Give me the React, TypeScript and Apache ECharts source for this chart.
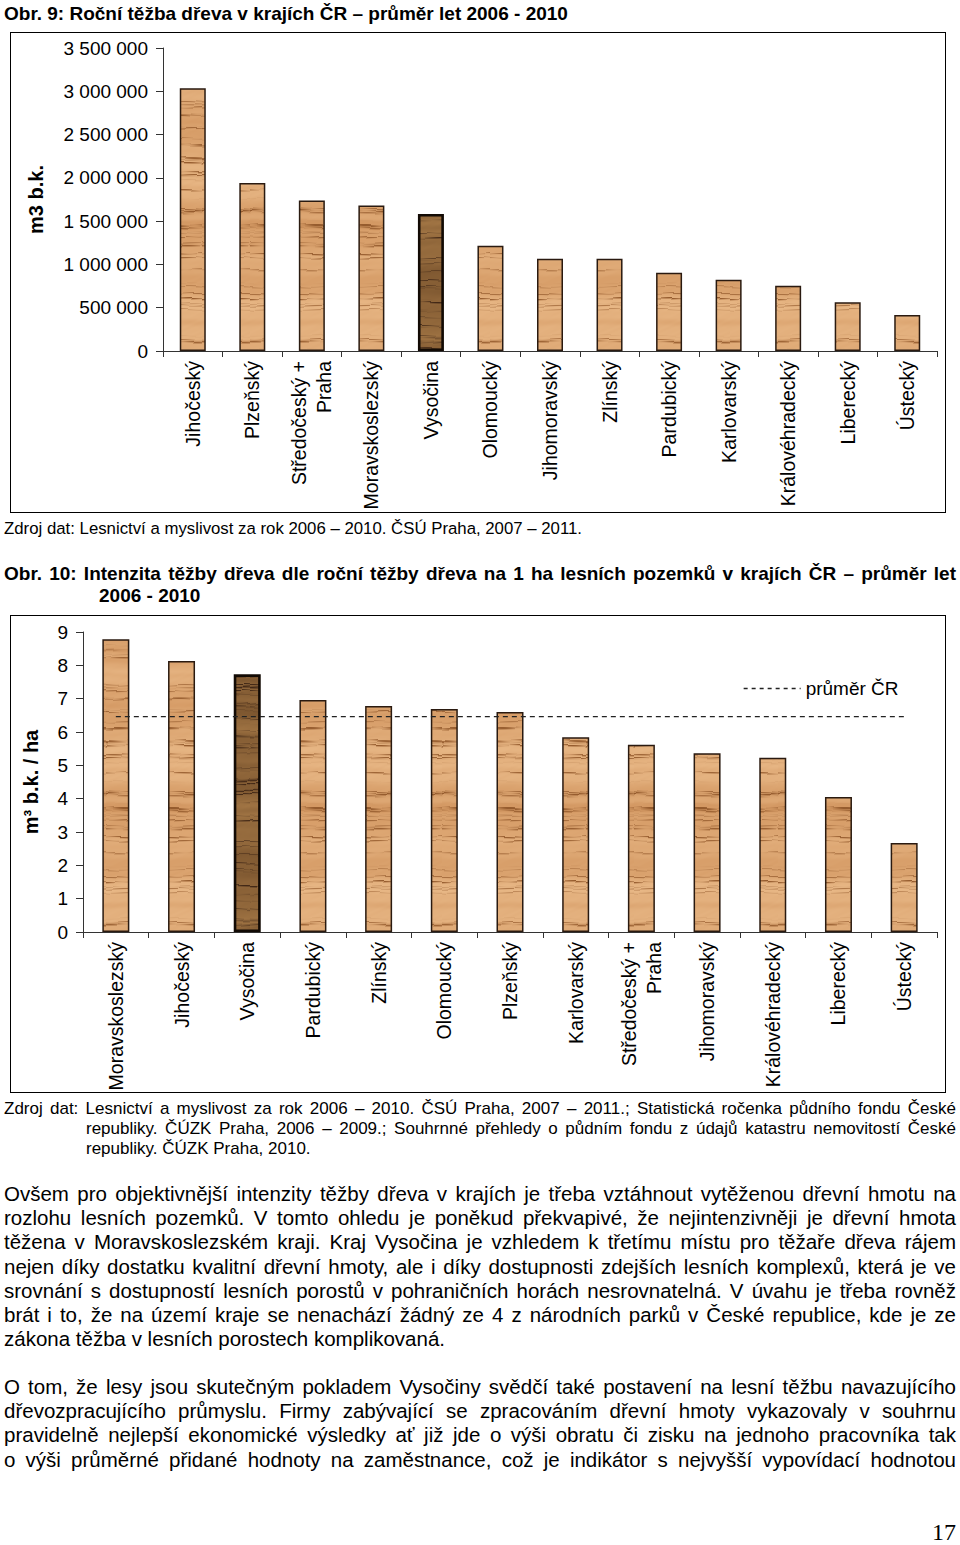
import React, { useEffect, useRef } from "react";
import * as echarts from "echarts";

// ---------- DATA ----------
const regions1 = [
  "Jihočeský",
  "Plzeňský",
  "Středočeský +\nPraha",
  "Moravskoslezský",
  "Vysočina",
  "Olomoucký",
  "Jihomoravský",
  "Zlínský",
  "Pardubický",
  "Karlovarský",
  "Královéhradecký",
  "Liberecký",
  "Ústecký",
];
const harvest1 = [3036000, 1942000, 1738000, 1682000, 1583000, 1217000, 1065000, 1065000, 904000, 823000, 753000, 562000, 417000];

const regions2 = [
  "Moravskoslezský",
  "Jihočeský",
  "Vysočina",
  "Pardubický",
  "Zlínský",
  "Olomoucký",
  "Plzeňský",
  "Karlovarský",
  "Středočeský +\nPraha",
  "Jihomoravský",
  "Královéhradecký",
  "Liberecký",
  "Ústecký",
];
const intensity2 = [8.78, 8.13, 7.73, 6.96, 6.78, 6.69, 6.6, 5.84, 5.62, 5.36, 5.23, 4.05, 2.67];
const averageCR = [6.46, 6.46, 6.46, 6.46, 6.46, 6.46, 6.46, 6.46, 6.46, 6.46, 6.46, 6.46, 6.46];
const averageName = "průměr ČR";
const highlighted = "Vysočina";

const title1 = "Obr. 9: Roční těžba dřeva v krajích ČR – průměr let 2006 - 2010";
const source1 = "Zdroj dat: Lesnictví a myslivost za rok 2006 – 2010. ČSÚ Praha, 2007 – 2011.";
const title2Line1 = "Obr. 10: Intenzita těžby dřeva dle roční těžby dřeva na 1 ha lesních pozemků v krajích ČR – průměr let";
const title2Line2 = "2006 - 2010";
const source2Lines = [
  "Zdroj dat: Lesnictví a myslivost za rok 2006 – 2010. ČSÚ Praha, 2007 – 2011.; Statistická ročenka půdního fondu České",
  "republiky. ČÚZK Praha, 2006 – 2009.; Souhrnné přehledy o půdním fondu z údajů katastru nemovitostí České",
  "republiky. ČÚZK Praha, 2010.",
];
const paragraph1 = [
  "Ovšem pro objektivnější intenzity těžby dřeva v krajích je třeba vztáhnout vytěženou dřevní hmotu na",
  "rozlohu lesních pozemků. V tomto ohledu je poněkud překvapivé, že nejintenzivněji je dřevní hmota",
  "těžena v Moravskoslezském kraji. Kraj Vysočina je vzhledem k třetímu místu pro těžaře dřeva rájem",
  "nejen díky dostatku kvalitní dřevní hmoty, ale i díky dostupnosti zdejších lesních komplexů, která je ve",
  "srovnání s dostupností lesních porostů v pohraničních horách nesrovnatelná. V úvahu je třeba rovněž",
  "brát i to, že na území kraje se nenachází žádný ze 4 z národních parků v České republice, kde je ze",
  "zákona těžba v lesních porostech komplikovaná.",
];
const paragraph2 = [
  "O tom, že lesy jsou skutečným pokladem Vysočiny svědčí také postavení na lesní těžbu navazujícího",
  "dřevozpracujícího průmyslu. Firmy zabývající se zpracováním dřevní hmoty vykazovaly v souhrnu",
  "pravidelně nejlepší ekonomické výsledky ať již jde o výši obratu či zisku na jednoho pracovníka tak",
  "o výši průměrné přidané hodnoty na zaměstnance, což je indikátor s nejvyšší vypovídací hodnotou",
];
const pageNumber = "17";

// ---------- STYLE ----------
const FONT = "'Liberation Sans', Arial, Helvetica, sans-serif";
const NARROW = "'Liberation Sans Narrow', 'Arial Narrow', 'Liberation Sans', Arial, sans-serif";

function mix(a: number[], b: number[], t: number) {
  return [a[0] + (b[0] - a[0]) * t, a[1] + (b[1] - a[1]) * t, a[2] + (b[2] - a[2]) * t];
}

// deterministic hash used only for the wood-grain texture (not data)
function hash(n: number) {
  const s = Math.sin(n * 12.9898 + 78.233) * 43758.5453;
  return s - Math.floor(s);
}
function smoothNoise(v: number, seed: number) {
  const i = Math.floor(v);
  const f = v - i;
  const a = hash(i + seed * 101);
  const b = hash(i + 1 + seed * 101);
  const u = f * f * (3 - 2 * f);
  return a + (b - a) * u;
}

function makeWood(dark: boolean): string {
  const w = 48;
  const h = 420;
  const c = document.createElement("canvas");
  c.width = w;
  c.height = h;
  const ctx = c.getContext("2d");
  if (!ctx) return "";
  const img = ctx.createImageData(w, h);
  const light = dark ? [172, 126, 74] : [240, 196, 148];
  const mid = dark ? [122, 84, 46] : [210, 150, 96];
  const deep = dark ? [66, 40, 22] : [150, 92, 46];
  const seed = dark ? 7 : 3;
  const streakRow: number[] = [];
  for (let y = 0; y < h; y++) {
    const r = hash(y * 1.73 + seed * 13.1);
    streakRow.push(r > 0.8 ? (r - 0.8) / 0.2 : 0);
  }
  for (let y = 0; y < h; y++) {
    for (let x = 0; x < w; x++) {
      const yy = y + 0.6 * Math.sin(x * 0.11 + y * 0.04);
      let t = 0.15 + 0.55 * smoothNoise(yy / 16, seed) + 0.3 * smoothNoise(yy / 5, seed + 1);
      t += 0.06 * (smoothNoise(x / 6 + y * 0.37, seed + 2) - 0.5);
      t = Math.max(0, Math.min(1, t));
      const yi = Math.round(yy);
      const cur = streakRow[((yi % h) + h) % h] || 0;
      const prev = streakRow[(((yi - 1) % h) + h) % h] || 0;
      const m = 0.55 + 0.45 * Math.sin(x * 0.16 + hash(yi + seed) * 6.28);
      let st = Math.max(cur, prev * 0.45) * m;
      let col = mix(light, mid, t);
      col = mix(col, deep, Math.min(1, st * 1.1));
      const i = (y * w + x) * 4;
      img.data[i] = col[0];
      img.data[i + 1] = col[1];
      img.data[i + 2] = col[2];
      img.data[i + 3] = 255;
    }
  }
  ctx.putImageData(img, 0, 0);
  return c.toDataURL();
}

function thousands(v: number) {
  return String(v).replace(/\B(?=(\d{3})+(?!\d))/g, " ");
}

function barItems(names: string[], values: number[], lightPat: any, darkPat: any) {
  return values.map((v, i) => {
    const hi = names[i] === highlighted;
    return {
      value: v,
      itemStyle: {
        color: hi ? darkPat : lightPat,
        borderColor: hi ? "#120a04" : "#2a1a10",
        borderWidth: hi ? 2.6 : 1.5,
      },
    };
  });
}

const axisLineStyle = { color: "#333", width: 1 };

export default function App() {
  const r1 = useRef<HTMLDivElement>(null);
  const r2 = useRef<HTMLDivElement>(null);

  useEffect(() => {
    if (!r1.current || !r2.current) return;
    const lightSrc = makeWood(false);
    const darkSrc = makeWood(true);
    const lightPat = { image: lightSrc, repeat: "repeat", imageWidth: 48, imageHeight: 420 };
    const darkPat = { image: darkSrc, repeat: "repeat", imageWidth: 48, imageHeight: 420 };

    const c1 = echarts.init(r1.current, undefined, { renderer: "svg" });
    const c2 = echarts.init(r2.current, undefined, { renderer: "svg" });

    const xLabel = { rotate: 90, fontSize: 19.5, color: "#000", margin: 10, lineHeight: 25, interval: 0, fontFamily: FONT };

    c1.setOption({
      animation: false,
      textStyle: { fontFamily: FONT, color: "#000" },
      grid: { left: 153, top: 16, right: 9, bottom: 162, containLabel: false, outerBoundsMode: "none" },
      xAxis: {
        type: "category",
        data: regions1,
        axisLine: { lineStyle: axisLineStyle },
        axisTick: { show: true, length: 6, lineStyle: axisLineStyle },
        axisLabel: xLabel,
        splitLine: { show: false },
      },
      yAxis: {
        type: "value",
        min: 0,
        max: 3500000,
        interval: 500000,
        name: "m3 b.k.",
        nameLocation: "middle",
        nameGap: 117,
        nameTextStyle: { fontWeight: "bold", fontSize: 20, color: "#000", fontFamily: FONT },
        axisLine: { show: true, lineStyle: axisLineStyle },
        axisTick: { show: true, length: 7, lineStyle: axisLineStyle },
        axisLabel: { formatter: (v: number) => thousands(v), fontSize: 19, margin: 15, color: "#000", fontFamily: FONT },
        splitLine: { show: false },
      },
      series: [
        {
          type: "bar",
          data: barItems(regions1, harvest1, lightPat, darkPat),
          barWidth: 26,
        },
      ],
    });

    c2.setOption({
      animation: false,
      textStyle: { fontFamily: FONT, color: "#000" },
      grid: { left: 73, top: 17, right: 9, bottom: 161, containLabel: false, outerBoundsMode: "none" },
      legend: {
        data: [averageName],
        left: 728,
        top: 59,
        itemWidth: 57,
        itemHeight: 12,
        itemGap: 10,
        itemStyle: { color: "transparent", borderColor: "transparent", borderWidth: 0, opacity: 0 },
        lineStyle: { type: [4, 4], width: 1.3, color: "#222" },
        textStyle: { fontSize: 19, color: "#000", fontFamily: FONT },
      },
      xAxis: {
        type: "category",
        data: regions2,
        axisLine: { lineStyle: axisLineStyle },
        axisTick: { show: true, length: 6, lineStyle: axisLineStyle },
        axisLabel: xLabel,
        splitLine: { show: false },
      },
      yAxis: {
        type: "value",
        min: 0,
        max: 9,
        interval: 1,
        name: "m³ b.k. / ha",
        nameLocation: "middle",
        nameGap: 42,
        nameTextStyle: { fontWeight: "bold", fontSize: 20, color: "#000", fontFamily: FONT },
        axisLine: { show: true, lineStyle: axisLineStyle },
        axisTick: { show: true, length: 7, lineStyle: axisLineStyle },
        axisLabel: { fontSize: 19, margin: 15, color: "#000", fontFamily: FONT },
        splitLine: { show: false },
      },
      series: [
        {
          type: "bar",
          data: barItems(regions2, intensity2, lightPat, darkPat),
          barWidth: 27,
        },
        {
          type: "line",
          name: averageName,
          data: averageCR,
          symbol: "none",
          z: 5,
          lineStyle: { color: "#222", width: 1.4, type: [5, 4] },
          itemStyle: { color: "#222" },
        },
      ],
    });

    return () => {
      c1.dispose();
      c2.dispose();
    };
  }, []);

  const justLine = (text: string, key: number, last: boolean, extra: React.CSSProperties = {}) => (
    <div
      key={key}
      style={{
        textAlign: last ? "left" : "justify",
        textAlignLast: last ? "left" : "justify",
        ...extra,
      }}
    >
      {text}
    </div>
  );

  return (
    <div
      style={{
        position: "absolute",
        left: 0,
        top: 0,
        width: 960,
        height: 1545,
        background: "#fff",
        fontFamily: FONT,
        color: "#000",
        overflow: "hidden",
      }}
    >
      <div style={{ position: "absolute", left: 4, top: 4, fontSize: 19, fontWeight: "bold", lineHeight: "20px", whiteSpace: "nowrap" }}>
        {title1}
      </div>
      <div
        style={{
          position: "absolute",
          left: 10,
          top: 32,
          width: 936,
          height: 481,
          border: "1.5px solid #000",
          boxSizing: "border-box",
        }}
      />
      <div ref={r1} style={{ position: "absolute", left: 10, top: 32, width: 936, height: 481 }} />
      <div style={{ position: "absolute", left: 4, top: 519, fontSize: 16.8, lineHeight: "20px", fontFamily: NARROW, whiteSpace: "nowrap" }}>
        {source1}
      </div>

      <div style={{ position: "absolute", left: 4, top: 563, width: 952, fontSize: 19, fontWeight: "bold", lineHeight: "22px" }}>
        {justLine(title2Line1, 0, false)}
        {justLine(title2Line2, 1, true, { paddingLeft: 95 })}
      </div>
      <div
        style={{
          position: "absolute",
          left: 10,
          top: 615,
          width: 936,
          height: 478,
          border: "1.5px solid #000",
          boxSizing: "border-box",
        }}
      />
      <div ref={r2} style={{ position: "absolute", left: 10, top: 615, width: 936, height: 478 }} />
      <div style={{ position: "absolute", left: 4, top: 1099, width: 952, fontSize: 17, lineHeight: "20px", fontFamily: NARROW }}>
        {source2Lines.map((t, i) => justLine(t, i, i === source2Lines.length - 1, i > 0 ? { paddingLeft: 82 } : {}))}
      </div>

      <div style={{ position: "absolute", left: 4, top: 1182, width: 952, fontSize: 20.5, lineHeight: "24.2px" }}>
        {paragraph1.map((t, i) => justLine(t, i, i === paragraph1.length - 1))}
      </div>
      <div style={{ position: "absolute", left: 4, top: 1375, width: 952, fontSize: 20.5, lineHeight: "24.2px" }}>
        {paragraph2.map((t, i) => justLine(t, i, false))}
      </div>
      <div
        style={{
          position: "absolute",
          right: 4,
          top: 1522,
          fontSize: 24,
          lineHeight: "20px",
          fontFamily: "'Liberation Serif', 'Times New Roman', serif",
        }}
      >
        {pageNumber}
      </div>
    </div>
  );
}
